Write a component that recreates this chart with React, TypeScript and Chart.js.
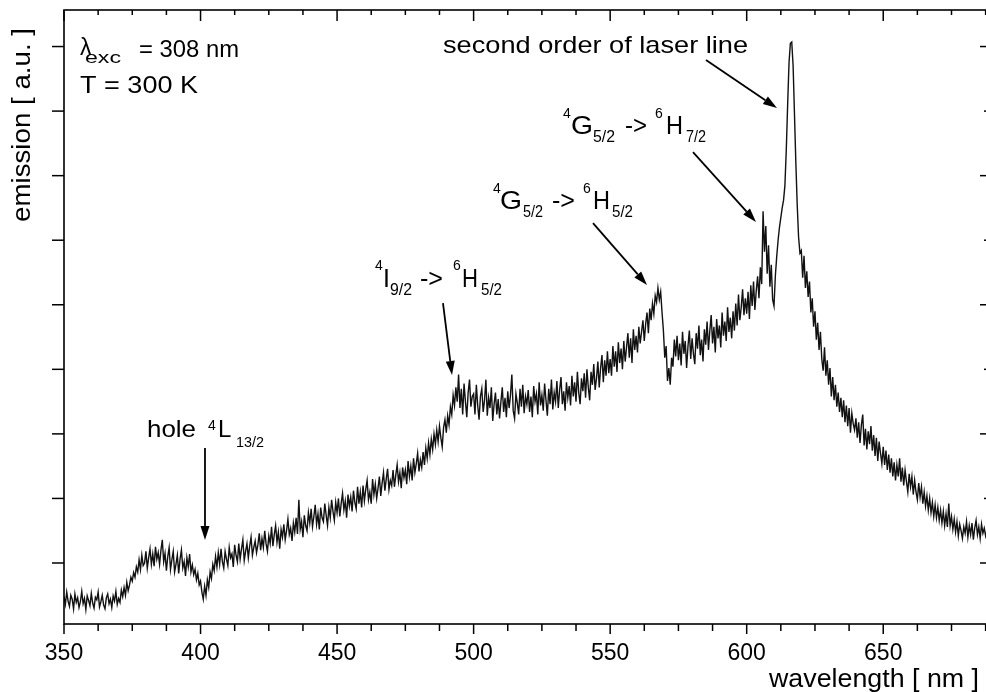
import React, { useEffect, useRef } from 'react';
import { Chart, registerables } from 'chart.js';

Chart.register(...registerables);

// ---------- axis ranges / ticks ----------
const X_MIN = 350;
const X_MAX = 688;
const Y_MIN = 0.055;
const Y_MAX = 9.566;
const xTickValues = [350, 362.5, 375, 387.5, 400, 412.5, 425, 437.5, 450, 462.5, 475, 487.5, 500, 512.5, 525, 537.5, 550, 562.5, 575, 587.5, 600, 612.5, 625, 637.5, 650, 662.5, 675, 687.5];
const xLabelValues = [350, 400, 450, 500, 550, 600, 650];
const yTickValues = [1, 2, 3, 4, 5, 6, 7, 8, 9];
const yMajorRight = [1, 3, 5, 7, 9];

// ---------- spectrum (emission, a.u.), sampled every 0.5 nm ----------
const STEP_NM = 0.5;
const spec350 = [
  0.48, 0.36, 0.55, 0.41, 0.33, 0.50, 0.44, 0.29, 0.52, 0.39,
  0.46, 0.31, 0.40, 0.56, 0.37, 0.45, 0.28, 0.49, 0.42, 0.34,
  0.53, 0.38, 0.30, 0.47, 0.43, 0.55, 0.32, 0.40, 0.50, 0.35,
  0.29, 0.46, 0.52, 0.37, 0.44, 0.31, 0.49, 0.41, 0.56, 0.36,
  0.45, 0.39, 0.58, 0.48, 0.62, 0.50, 0.70, 0.57, 0.66, 0.78,
  0.72, 0.85, 0.78, 0.94, 0.86, 1.05, 0.90, 1.12, 0.96, 1.00,
  1.18, 0.92, 1.08, 1.22, 0.98, 1.14, 0.95, 1.25, 1.06, 1.16,
  0.98, 1.20, 1.36, 1.02, 1.15, 0.88, 1.10, 1.24, 0.90, 1.05,
  1.18, 0.86, 0.98, 1.12, 0.84, 1.06, 1.20, 0.92, 1.02, 0.80,
  1.08, 0.94, 1.14, 0.86, 0.97, 0.82, 0.90, 0.74, 0.84, 0.66,
];
const spec400 = [
  0.72, 0.55, 0.44, 0.64, 0.50, 0.74, 0.62, 0.86, 0.76, 0.98,
  0.88, 1.10, 0.94, 1.16, 0.98, 1.22, 1.02, 0.92, 1.18, 1.06,
  0.96, 1.24, 1.08, 1.14, 0.94, 1.28, 1.12, 1.02, 1.30, 1.06,
  1.22, 1.36, 1.04, 1.18, 1.30, 1.08, 1.26, 1.40, 1.12, 1.24,
  1.34, 1.16, 1.28, 1.46, 1.20, 1.38, 1.24, 1.50, 1.30, 1.18,
  1.42, 1.30, 1.56, 1.26, 1.44, 1.58, 1.32, 1.48, 1.22, 1.52,
  1.40, 1.60, 1.36, 1.50, 1.68, 1.44, 1.54, 1.34, 1.62, 1.48,
  1.70, 1.45, 1.98, 1.52, 1.64, 1.40, 1.74, 1.58, 1.50, 1.78,
  1.62, 1.84, 1.56, 1.72, 1.90, 1.60, 1.76, 1.52, 1.86, 1.70,
  1.64, 1.92, 1.74, 1.58, 1.86, 1.70, 1.98, 1.80, 1.66, 1.94,
];
const spec450 = [
  1.78, 2.00, 1.72, 1.92, 2.08, 1.82, 1.96, 1.70, 2.06, 1.88,
  2.02, 1.80, 2.12, 1.94, 1.84, 2.18, 1.92, 2.10, 1.86, 2.20,
  1.96, 2.14, 2.28, 1.98, 2.10, 1.92, 2.30, 2.06, 2.22, 2.00,
  2.16, 2.34, 2.04, 2.24, 2.40, 2.12, 2.30, 2.46, 2.14, 2.28,
  2.20, 2.44, 2.18, 2.36, 2.52, 2.26, 2.40, 2.16, 2.48, 2.32,
  2.44, 2.22, 2.58, 2.34, 2.50, 2.28, 2.62, 2.40, 2.54, 2.70,
  2.42, 2.60, 2.48, 2.72, 2.52, 2.78, 2.62, 2.86, 2.68, 2.92,
  2.76, 3.00, 2.84, 3.06, 2.88, 3.12, 2.94, 2.80, 3.10, 3.22,
  3.02, 3.28, 3.14, 3.42, 3.30, 3.60, 3.44, 3.72, 3.50, 3.92,
  3.40, 3.70, 3.30, 3.78, 3.50, 3.26, 3.64, 3.84, 3.42, 3.58,
];
const spec500 = [
  3.62, 3.30, 3.76, 3.44, 3.22, 3.58, 3.70, 3.34, 3.52, 3.84,
  3.28, 3.56, 3.40, 3.72, 3.20, 3.46, 3.64, 3.30, 3.54, 3.24,
  3.50, 3.72, 3.34, 3.56, 3.26, 3.66, 3.40, 3.60, 3.92, 3.36,
  3.24, 3.62, 3.48, 3.30, 3.70, 3.42, 3.76, 3.32, 3.58, 3.46,
  3.68, 3.34, 3.58, 3.26, 3.74, 3.50, 3.62, 3.30, 3.80, 3.44,
  3.60, 3.36, 3.78, 3.52, 3.28, 3.70, 3.46, 3.84, 3.38, 3.64,
  3.50, 3.82, 3.40, 3.68, 3.88, 3.46, 3.66, 3.36, 3.80, 3.56,
  3.74, 3.44, 3.90, 3.58, 3.80, 3.50, 3.96, 3.64, 3.46, 3.86,
  3.66, 3.94, 3.56, 4.00, 3.72, 3.52, 3.96, 3.76, 4.08, 3.68,
  3.86, 4.12, 3.72, 4.02, 4.22, 3.80, 4.14, 3.90, 4.28, 3.94,
];
const spec550 = [
  4.16, 3.90, 4.36, 4.04, 4.28, 3.96, 4.42, 4.10, 4.32, 4.00,
  4.44, 4.12, 4.34, 4.56, 4.18, 4.48, 4.10, 4.62, 4.30, 4.52,
  4.26, 4.66, 4.40, 4.58, 4.76, 4.44, 4.70, 4.88, 4.56, 4.94,
  4.76, 5.02, 4.86, 5.14, 5.04, 5.26, 5.08, 5.20, 4.88, 4.60,
  4.18, 4.36, 3.82, 4.02, 3.76, 4.18, 4.04, 4.46, 4.20, 4.52,
  4.14, 4.40, 4.06, 4.58, 4.24, 4.44, 4.02, 4.36, 4.60, 4.16,
  4.48, 4.24, 4.08, 4.56, 4.32, 4.68, 4.22, 4.46, 4.12, 4.62,
  4.38, 4.74, 4.30, 4.60, 4.84, 4.40, 4.66, 4.26, 4.78, 4.48,
  4.68, 4.34, 4.88, 4.52, 4.74, 4.44, 4.96, 4.58, 4.80, 4.48,
  4.90, 4.60, 5.02, 4.68, 5.16, 4.76, 4.96, 5.24, 4.84, 5.10,
];
const spec600 = [
  4.86, 5.20, 4.78, 5.30, 4.98, 5.36, 4.92, 5.22, 5.44, 5.10,
  5.58, 5.32, 6.45, 5.82, 6.22, 5.48, 5.92, 5.28, 5.62, 5.08,
  4.98, 5.45, 5.75, 6.00, 6.20, 6.35, 6.50, 6.62, 6.85, 7.40,
  8.10, 8.75, 9.05, 9.07, 8.70, 7.95, 7.20, 6.55, 6.05, 5.80,
  5.84, 5.42, 5.76, 5.26, 5.52, 5.12, 5.36, 4.88, 5.10, 4.66,
  4.90, 4.46, 4.72, 4.30, 4.58, 4.16, 3.98, 4.34, 3.90, 4.14,
  3.76, 4.02, 3.58, 3.88, 3.52, 3.76, 3.42, 3.64, 3.34, 3.56,
  3.26, 3.52, 3.18, 3.44, 3.12, 3.40, 3.02, 3.32, 3.16, 3.06,
  3.24, 2.94, 3.18, 2.86, 3.14, 3.30, 2.82, 3.08, 2.76, 3.04,
  2.84, 3.12, 2.74, 2.98, 2.66, 2.94, 2.58, 2.88, 2.70, 2.54,
];
const spec650 = [
  2.80, 2.52, 2.74, 2.44, 2.68, 2.40, 2.62, 2.34, 2.56, 2.28,
  2.52, 2.34, 2.62, 2.26, 2.48, 2.20, 2.44, 2.26, 2.10, 2.38,
  2.18, 2.34, 2.06, 2.28, 2.10, 1.98, 2.24, 2.02, 2.18, 1.92,
  2.10, 1.88, 2.04, 1.82, 2.00, 1.78, 1.94, 1.72, 1.90, 1.70,
  1.86, 1.66, 1.82, 1.62, 1.80, 1.58, 1.76, 1.56, 1.92, 1.58,
  1.72, 1.52, 1.68, 1.48, 1.64, 1.42, 1.60, 1.50, 1.38, 1.56,
  1.46, 1.64, 1.40, 1.58, 1.44, 1.62, 1.36, 1.54, 1.66, 1.44,
  1.56, 1.38, 1.60, 1.46, 1.54, 1.42, 1.50,
];
const segmentStarts = [350, 400, 450, 500, 550, 600, 650];
const segmentValues = [spec350, spec400, spec450, spec500, spec550, spec600, spec650];

// ---------- annotation texts (anchors in data coordinates) ----------
type Piece = [string, number, number, number, number?]; // text, dx, dy, font size, fit width
const labels: { nm: number; v: number; pieces: Piece[] }[] = [
  { nm: 355.86, v: 8.838, pieces: [['λ', 0, -2, 23], ['exc', 5, 6, 16, 36], ['= 308 nm', 59, 0, 24, 100]] },
  { nm: 355.86, v: 8.28, pieces: [['T = 300 K', 0, 0, 24, 118]] },
  { nm: 488.79, v: 8.9, pieces: [['second order of laser line', 0, 0, 24, 305]] },
  { nm: 380.39, v: 2.952, pieces: [['hole', 0, 0, 24, 49], ['4', 61, -7, 14], ['L', 71, 0, 24], ['13/2', 89, 10, 15, 28]] },
  { nm: 463.89, v: 5.275, pieces: [['4', 0, -17, 14], ['I', 8, 0, 25], ['9/2', 15, 8, 16, 22], ['->', 45, 0, 25, 23], ['6', 78, -17, 14], ['H', 87, 0, 25, 16], ['5/2', 106, 8, 16, 21]] },
  { nm: 507.1, v: 6.483, pieces: [['4', 0, -16, 14], ['G', 7, 0, 25, 22], ['5/2', 30, 8, 16, 20], ['->', 59, 0, 25, 23], ['6', 90, -16, 14], ['H', 100, 0, 25, 17], ['5/2', 119, 8, 16, 21]] },
  { nm: 532.73, v: 7.645, pieces: [['4', 0, -16, 14], ['G', 8, 0, 25, 22], ['5/2', 30, 8, 16, 22], ['->', 62, 0, 25, 22], ['6', 92, -16, 14], ['H', 103, 0, 25, 17], ['7/2', 123, 8, 16, 20]] },
];
const arrows = [
  { from: [401.63, 2.781], to: [401.63, 1.356] },
  { from: [488.79, 5.027], to: [492.08, 3.912] },
  { from: [543.72, 6.266], to: [563.49, 5.306] },
  { from: [580.34, 7.366], to: [603.4, 6.282] },
  { from: [585.09, 8.791], to: [611.09, 8.048] },
];
const xTitle = 'wavelength [ nm ]';
const yTitle = 'emission [ a.u. ]';

const FONT = '"Liberation Sans", Arial, Helvetica, sans-serif';

function drawFitText(ctx: CanvasRenderingContext2D, text: string, x: number, y: number, size: number, width?: number, rot = 0) {
  ctx.save();
  ctx.font = `${size}px ${FONT}`;
  const w = ctx.measureText(text).width;
  const sx = width ? width / w : 1;
  ctx.translate(x, y);
  if (rot) ctx.rotate(rot);
  ctx.scale(sx, 1);
  ctx.textAlign = 'left';
  ctx.textBaseline = 'alphabetic';
  ctx.fillStyle = '#000';
  ctx.fillText(text, 0, 0);
  ctx.restore();
}

function drawArrow(ctx: CanvasRenderingContext2D, x1: number, y1: number, x2: number, y2: number) {
  const ang = Math.atan2(y2 - y1, x2 - x1);
  const L = 14;
  const W = 4.5;
  const bx = x2 - L * Math.cos(ang);
  const by = y2 - L * Math.sin(ang);
  ctx.beginPath();
  ctx.moveTo(x1, y1);
  ctx.lineTo(bx, by);
  ctx.lineWidth = 1.8;
  ctx.strokeStyle = '#000';
  ctx.stroke();
  ctx.beginPath();
  ctx.moveTo(x2, y2);
  ctx.lineTo(bx + W * Math.sin(ang), by - W * Math.cos(ang));
  ctx.lineTo(bx - W * Math.sin(ang), by + W * Math.cos(ang));
  ctx.closePath();
  ctx.fillStyle = '#000';
  ctx.fill();
}

const framePlugin = {
  id: 'frameAndNotes',
  afterDraw(chart: any) {
    const { ctx, chartArea: a, scales } = chart;
    const xs = scales.x;
    const ys = scales.y;
    ctx.save();
    ctx.strokeStyle = '#000';
    ctx.lineWidth = 1.6;
    ctx.strokeRect(a.left, a.top, a.right - a.left, a.bottom - a.top);
    ctx.lineWidth = 1.5;
    const seg = (x1: number, y1: number, x2: number, y2: number) => {
      ctx.beginPath();
      ctx.moveTo(x1, y1);
      ctx.lineTo(x2, y2);
      ctx.stroke();
    };
    for (const t of xs.ticks) {
      const px = xs.getPixelForValue(t.value);
      const major = xLabelValues.includes(t.value);
      seg(px, a.bottom, px, a.bottom + (major ? 10 : 7));
      seg(px, a.top, px, a.top + (major ? 11 : 5));
    }
    for (const t of ys.ticks) {
      const py = ys.getPixelForValue(t.value);
      seg(a.left - 12, py, a.left, py);
      const major = yMajorRight.includes(t.value);
      seg(a.right - (major ? 7 : 3), py, a.right, py);
    }
    // axis titles
    drawFitText(ctx, xTitle, a.right - 8 - 210, 686.5, 26, 210);
    drawFitText(ctx, yTitle, 30, a.top + 212, 26, 194, -Math.PI / 2);
    // annotations
    for (const lab of labels) {
      const x0 = xs.getPixelForValue(lab.nm);
      const y0 = ys.getPixelForValue(lab.v);
      for (const [text, dx, dy, size, width] of lab.pieces) {
        drawFitText(ctx, text, x0 + dx, y0 + dy, size, width);
      }
    }
    for (const ar of arrows) {
      drawArrow(
        ctx,
        xs.getPixelForValue(ar.from[0]), ys.getPixelForValue(ar.from[1]),
        xs.getPixelForValue(ar.to[0]), ys.getPixelForValue(ar.to[1])
      );
    }
    ctx.restore();
  },
};

export default function App() {
  const ref = useRef<HTMLCanvasElement | null>(null);
  useEffect(() => {
    const canvas = ref.current;
    if (!canvas) return;
    const points: { x: number; y: number }[] = [];
    segmentValues.forEach((vals, si) => {
      vals.forEach((v, i) => points.push({ x: segmentStarts[si] + i * STEP_NM, y: v }));
    });
    const chart = new Chart(canvas, {
      type: 'line',
      data: {
        datasets: [
          {
            data: points,
            borderColor: '#111',
            borderWidth: 1.4,
            pointRadius: 0,
            tension: 0,
            fill: false,
          },
        ],
      },
      options: {
        animation: false,
        responsive: false,
        maintainAspectRatio: false,
        events: [],
        layout: { padding: { top: 10, right: 13, left: 0, bottom: 0 } },
        plugins: { legend: { display: false }, tooltip: { enabled: false }, title: { display: false } },
        scales: {
          x: {
            type: 'linear',
            min: X_MIN,
            max: X_MAX,
            afterBuildTicks: (s: any) => {
              s.ticks = xTickValues.map((v) => ({ value: v }));
            },
            afterFit: (s: any) => {
              s.height = 68;
            },
            grid: { display: true, drawOnChartArea: false, drawTicks: true, tickLength: 10, color: 'rgba(0,0,0,0)' },
            border: { display: false },
            ticks: {
              autoSkip: false,
              maxRotation: 0,
              padding: 6,
              color: '#000',
              font: { family: FONT, size: 23 },
              callback: (v: any) => (xLabelValues.includes(Number(v)) ? String(v) : ''),
            },
          },
          y: {
            type: 'linear',
            min: Y_MIN,
            max: Y_MAX,
            afterBuildTicks: (s: any) => {
              s.ticks = yTickValues.map((v) => ({ value: v }));
            },
            afterFit: (s: any) => {
              s.width = 64;
            },
            grid: { display: false },
            border: { display: false },
            ticks: { display: false },
          },
        },
      },
      plugins: [framePlugin],
    });
    return () => chart.destroy();
  }, []);
  return (
    <div style={{ position: 'fixed', left: 0, top: 0, width: 986, height: 692, overflow: 'hidden', background: '#fff' }}>
      <canvas ref={ref} width={1000} height={692} style={{ width: 1000, height: 692, display: 'block' }} />
    </div>
  );
}
